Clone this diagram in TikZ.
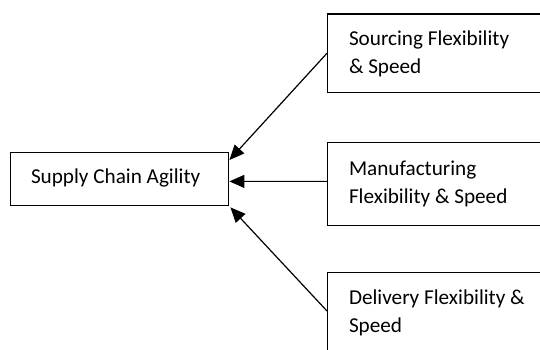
\documentclass[tikz,border=0pt]{standalone}
\usepackage{fontspec}
\setmainfont{Carlito}
\usetikzlibrary{arrows.meta}

\begin{document}
\begin{tikzpicture}[x=1pt,y=-1pt,
        every node/.style={draw,line width=1.4pt,anchor=north west,align=flush left,inner ysep=0pt,font=\fontsize{21.2}{28.7}\selectfont},
        leftbox/.style={text width=176.9pt,inner xsep=20.8pt,text height=31.2pt,text depth=21.8pt},
        rightbox/.style={text width=200pt,inner xsep=21.3pt},
        arr/.style={-{Triangle[length=15pt,width=13pt]},line width=1.2pt}]
        \useasboundingbox (0,0) rectangle (540,349);
        \clip (0,0) rectangle (540,349);
        \node[leftbox] (sca) at (9.5,151.5) {Supply Chain Agility};
        \node[rightbox,text height=31pt,text depth=47.4pt] (src) at (327,13.3) {Sourcing Flexibility\\\& Speed};
        \node[rightbox,text height=32.6pt,text depth=50.7pt] (man) at (327,141.7) {Manufacturing\\Flexibility \& Speed};
        \node[rightbox,text height=31.6pt,text depth=70pt] (del) at (327,271.7) {Delivery Flexibility \&\\Speed};
        \draw[arr] (src.west) -- ([yshift=-8.5pt]sca.north east);
        \draw[arr] ([yshift=2.7pt]man.west) -- ([yshift=-2.7pt]sca.east);
        \draw[arr] ([yshift=-39.3pt]del.north west) -- ([xshift=1pt,yshift=-1.5pt]sca.south east);
    \end{tikzpicture}
\end{document}
